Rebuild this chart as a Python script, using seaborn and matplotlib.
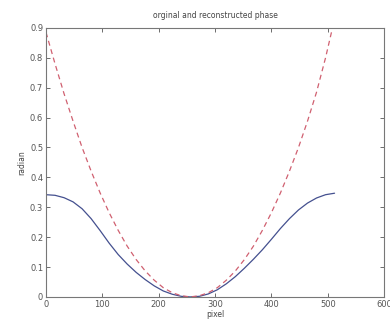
import matplotlib
matplotlib.use("Agg")
import matplotlib.pyplot as plt
import seaborn as sns
import pandas as pd

pixel = [0, 16, 32, 48, 64, 80, 96, 112, 128, 144, 160, 176, 192, 208, 224, 240, 256,
         272, 288, 304, 320, 336, 352, 368, 384, 400, 416, 432, 448, 464, 480, 496, 512]
original = [0.342, 0.340, 0.332, 0.318, 0.295, 0.262, 0.222, 0.180, 0.142, 0.110, 0.082,
            0.058, 0.037, 0.020, 0.009, 0.002, 0.0,
            0.002, 0.010, 0.024, 0.044, 0.068, 0.096, 0.126, 0.158, 0.193, 0.229, 0.262,
            0.291, 0.314, 0.331, 0.342, 0.347]
reconstructed = [0.885, 0.780, 0.680, 0.588, 0.500, 0.421, 0.348, 0.282, 0.223, 0.170,
                 0.125, 0.087, 0.056, 0.031, 0.014, 0.004, 0.0,
                 0.004, 0.014, 0.031, 0.056, 0.087, 0.125, 0.170, 0.223, 0.282, 0.348,
                 0.421, 0.500, 0.588, 0.685, 0.800, 0.930]

xticks = [0, 100, 200, 300, 400, 500, 600]
yticks = [0, 0.1, 0.2, 0.3, 0.4, 0.5, 0.6, 0.7, 0.8, 0.9]
ytick_labels = ["0", "0.1", "0.2", "0.3", "0.4", "0.5", "0.6", "0.7", "0.8", "0.9"]

df = pd.DataFrame({"pixel": pixel, "original": original, "reconstructed": reconstructed})

sns.set_style("white")
plt.rcParams["font.family"] = ["DejaVu Sans"]

fig = plt.figure(figsize=(3.9, 3.21), dpi=100)
ax = fig.add_axes([0.118, 0.075, 0.867, 0.838])

sns.lineplot(data=df, x="pixel", y="original", ax=ax, color="#44508f", lw=0.9)
sns.lineplot(data=df, x="pixel", y="reconstructed", ax=ax, color="#d06070", lw=0.9,
             linestyle=(0, (4, 3)))

ax.set_xlim(0, 600)
ax.set_ylim(0, 0.9)
ax.set_xticks(xticks)
ax.set_xticklabels([str(t) for t in xticks])
ax.set_yticks(yticks)
ax.set_yticklabels(ytick_labels)
ax.tick_params(direction="in", length=3, width=0.6, labelsize=6, colors="#555555",
               top=True, right=True, bottom=True, left=True, pad=2)
for s in ax.spines.values():
    s.set_visible(True)
    s.set_color("#777777")
    s.set_linewidth(0.8)

ax.set_title("orginal and reconstructed phase", fontsize=5.5, color="#444444", pad=7)
ax.set_xlabel("pixel", fontsize=5.5, color="#444444", labelpad=1)
ax.set_ylabel("radian", fontsize=5.5, color="#444444", labelpad=3)

fig.savefig("out.png", dpi=100)
